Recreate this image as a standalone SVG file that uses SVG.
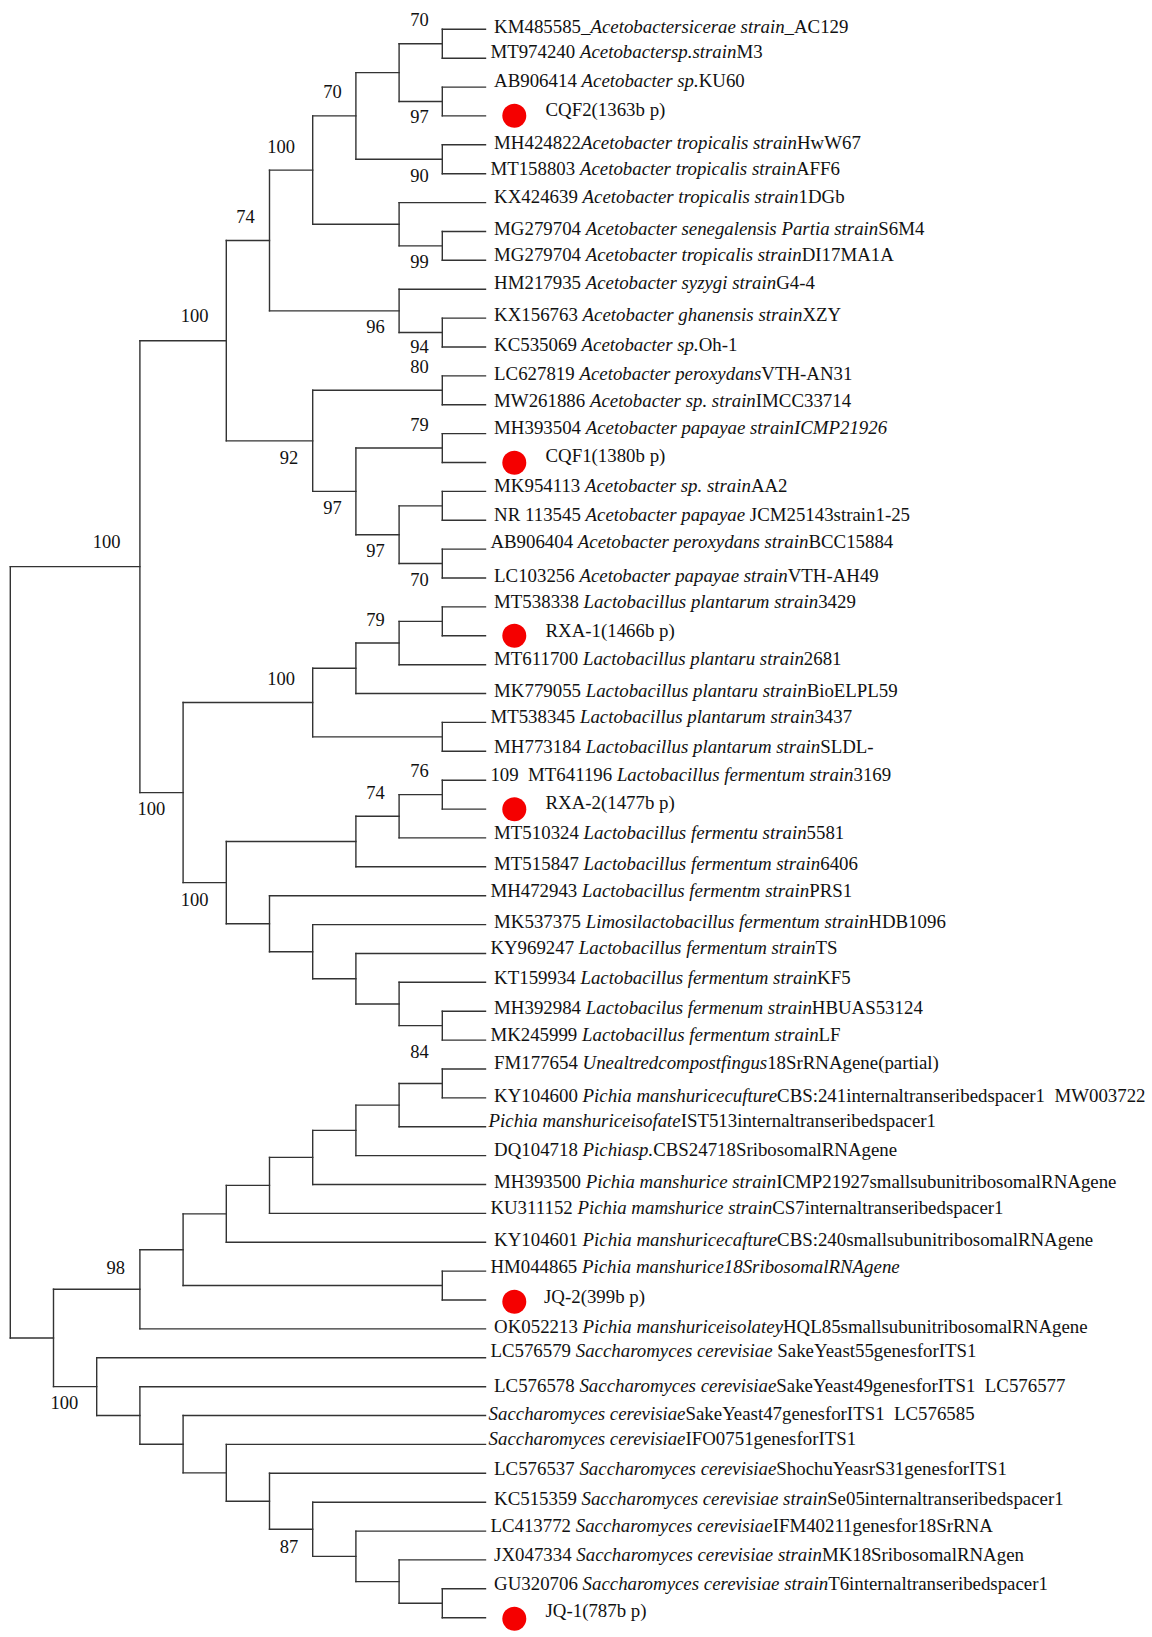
<svg xmlns="http://www.w3.org/2000/svg" width="1152" height="1637" viewBox="0 0 1152 1637">
<style>
.br{fill:none;stroke:#333;stroke-width:1.4;stroke-linecap:square}
text{font-family:"Liberation Serif","Times New Roman",serif;font-size:18.85px;fill:#111;white-space:pre}
.bs{font-size:18.5px;text-anchor:middle}
.i{font-style:italic}
.dot{fill:#f50000}
</style>
<rect width="1152" height="1637" fill="#fff"/>
<g id="connectors">
<path class="br" d="M442.3 29.3H485.5M442.3 58.2H485.5M442.3 87.1H485.5M442.3 115.9H485.5M442.3 144.8H485.5M442.3 173.7H485.5M399.1 202.6H485.5M442.3 231.5H485.5M442.3 260.3H485.5M399.1 289.2H485.5M442.3 318.1H485.5M442.3 347H485.5M442.3 375.9H485.5M442.3 404.7H485.5M442.3 433.6H485.5M442.3 462.5H485.5M442.3 491.4H485.5M442.3 520.3H485.5M442.3 549.1H485.5M442.3 578H485.5M442.3 606.9H485.5M442.3 635.8H485.5M399.1 664.7H485.5M355.9 693.5H485.5M442.3 722.4H485.5M442.3 751.3H485.5M442.3 780.2H485.5M442.3 809.1H485.5M399.1 837.9H485.5M355.9 866.8H485.5M269.5 895.7H485.5M312.7 924.6H485.5M355.9 953.5H485.5M399.1 982.3H485.5M442.3 1011.2H485.5M442.3 1040.1H485.5M442.3 1069H485.5M442.3 1097.9H485.5M399.1 1126.7H485.5M355.9 1155.6H485.5M312.7 1184.5H485.5M269.5 1213.4H485.5M226.3 1242.3H485.5M442.3 1271.1H485.5M442.3 1300H485.5M139.9 1328.9H485.5M96.7 1357.8H485.5M139.9 1386.7H485.5M183.1 1415.5H485.5M226.3 1444.4H485.5M269.5 1473.3H485.5M312.7 1502.2H485.5M355.9 1531.1H485.5M399.1 1559.9H485.5M442.3 1588.8H485.5M442.3 1617.7H485.5"/>
<path class="br" d="M399.1 43.75H442.3M399.1 101.5H442.3M355.9 72.6H399.1M355.9 159.25H442.3M312.7 115.9H355.9M399.1 245.9H442.3M312.7 224.25H399.1M269.5 170.1H312.7M399.1 332.55H442.3M269.5 310.9H399.1M226.3 240.5H269.5M312.7 390.3H442.3M355.9 448.05H442.3M399.1 505.85H442.3M399.1 563.55H442.3M355.9 534.7H399.1M312.7 491.4H355.9M226.3 440.85H312.7M139.9 340.7H226.3M399.1 621.35H442.3M355.9 643H399.1M312.7 668.25H355.9M312.7 736.85H442.3M183.1 702.55H312.7M399.1 794.65H442.3M355.9 816.3H399.1M226.3 841.55H355.9M399.1 1025.65H442.3M355.9 1004H399.1M312.7 978.75H355.9M269.5 951.7H312.7M226.3 923.7H269.5M183.1 882.6H226.3M139.9 792.6H183.1M10.3 566.65H139.9M399.1 1083.45H442.3M355.9 1105.1H399.1M312.7 1130.35H355.9M269.5 1157.4H312.7M226.3 1185.4H269.5M183.1 1213.85H226.3M183.1 1285.55H442.3M139.9 1249.7H183.1M53.5 1289.3H139.9M399.1 1603.25H442.3M355.9 1581.6H399.1M312.7 1556.35H355.9M269.5 1529.3H312.7M226.3 1501.3H269.5M183.1 1472.85H226.3M139.9 1444.2H183.1M96.7 1415.45H139.9M53.5 1386.6H96.7M10.3 1337.95H53.5"/>
<path class="br" d="M442.3 29.3V58.2M442.3 87.1V115.9M399.1 43.75V101.5M442.3 144.8V173.7M355.9 72.6V159.25M442.3 231.5V260.3M399.1 202.6V245.9M312.7 115.9V224.25M442.3 318.1V347M399.1 289.2V332.55M269.5 170.1V310.9M442.3 375.9V404.7M442.3 433.6V462.5M442.3 491.4V520.3M442.3 549.1V578M399.1 505.85V563.55M355.9 448.05V534.7M312.7 390.3V491.4M226.3 240.5V440.85M442.3 606.9V635.8M399.1 621.35V664.7M355.9 643V693.5M442.3 722.4V751.3M312.7 668.25V736.85M442.3 780.2V809.1M399.1 794.65V837.9M355.9 816.3V866.8M442.3 1011.2V1040.1M399.1 982.3V1025.65M355.9 953.5V1004M312.7 924.6V978.75M269.5 895.7V951.7M226.3 841.55V923.7M183.1 702.55V882.6M139.9 340.7V792.6M442.3 1069V1097.9M399.1 1083.45V1126.7M355.9 1105.1V1155.6M312.7 1130.35V1184.5M269.5 1157.4V1213.4M226.3 1185.4V1242.3M442.3 1271.1V1300M183.1 1213.85V1285.55M139.9 1249.7V1328.9M442.3 1588.8V1617.7M399.1 1559.9V1603.25M355.9 1531.1V1581.6M312.7 1502.2V1556.35M269.5 1473.3V1529.3M226.3 1444.4V1501.3M183.1 1415.5V1472.85M139.9 1386.7V1444.2M96.7 1357.8V1415.45M53.5 1289.3V1386.6M10.3 566.65V1337.95"/>
</g>
<g id="support-values">
<text class="bs" x="419.5" y="26">70</text>
<text class="bs" x="419.5" y="123">97</text>
<text class="bs" x="419.5" y="181.7">90</text>
<text class="bs" x="332.5" y="98.3">70</text>
<text class="bs" x="419.5" y="268.3">99</text>
<text class="bs" x="281" y="152.7">100</text>
<text class="bs" x="245.4" y="222.7">74</text>
<text class="bs" x="194.7" y="322.3">100</text>
<text class="bs" x="375.4" y="333.3">96</text>
<text class="bs" x="419.5" y="353.3">94</text>
<text class="bs" x="419.5" y="373.3">80</text>
<text class="bs" x="419.5" y="430.7">79</text>
<text class="bs" x="289.1" y="464.3">92</text>
<text class="bs" x="332.5" y="514">97</text>
<text class="bs" x="106.5" y="548.3">100</text>
<text class="bs" x="375.4" y="556.7">97</text>
<text class="bs" x="419.5" y="586">70</text>
<text class="bs" x="375.4" y="626">79</text>
<text class="bs" x="281" y="685">100</text>
<text class="bs" x="419.5" y="777.3">76</text>
<text class="bs" x="375.4" y="799.3">74</text>
<text class="bs" x="151.4" y="815">100</text>
<text class="bs" x="194.7" y="906">100</text>
<text class="bs" x="419.5" y="1058.3">84</text>
<text class="bs" x="115.7" y="1274.3">98</text>
<text class="bs" x="64.3" y="1408.7">100</text>
<text class="bs" x="289.1" y="1553">87</text>
</g>
<g id="tip-00"><text x="494.1" y="33">KM485585_<tspan class="i">Acetobactersicerae strain</tspan>_AC129</text></g>
<g id="tip-01"><text x="490.4" y="58.3">MT974240 <tspan class="i">Acetobactersp.strain</tspan>M3</text></g>
<g id="tip-02"><text x="494.1" y="87.3">AB906414 <tspan class="i">Acetobacter sp.</tspan>KU60</text></g>
<g id="tip-03"><circle class="dot" cx="514.3" cy="115.7" r="12"/><text x="545.5" y="116">CQF2(1363b p)</text></g>
<g id="tip-04"><text x="494.1" y="148.5">MH424822<tspan class="i">Acetobacter tropicalis strain</tspan>HwW67</text></g>
<g id="tip-05"><text x="490.4" y="174.5">MT158803 <tspan class="i">Acetobacter tropicalis strain</tspan>AFF6</text></g>
<g id="tip-06"><text x="494.1" y="203">KX424639 <tspan class="i">Acetobacter tropicalis strain</tspan>1DGb</text></g>
<g id="tip-07"><text x="494.1" y="234.5">MG279704 <tspan class="i">Acetobacter senegalensis Partia strain</tspan>S6M4</text></g>
<g id="tip-08"><text x="494.1" y="260.5">MG279704 <tspan class="i">Acetobacter tropicalis strain</tspan>DI17MA1A</text></g>
<g id="tip-09"><text x="494.1" y="289">HM217935 <tspan class="i">Acetobacter syzygi strain</tspan>G4-4</text></g>
<g id="tip-10"><text x="494.1" y="321">KX156763 <tspan class="i">Acetobacter ghanensis strain</tspan>XZY</text></g>
<g id="tip-11"><text x="494.1" y="351">KC535069 <tspan class="i">Acetobacter sp.</tspan>Oh-1</text></g>
<g id="tip-12"><text x="494.1" y="380">LC627819 <tspan class="i">Acetobacter peroxydans</tspan>VTH-AN31</text></g>
<g id="tip-13"><text x="494.1" y="406.5">MW261886 <tspan class="i">Acetobacter sp. strain</tspan>IMCC33714</text></g>
<g id="tip-14"><text x="494.1" y="433.5">MH393504 <tspan class="i">Acetobacter papayae strainICMP21926</tspan></text></g>
<g id="tip-15"><circle class="dot" cx="514.3" cy="462.7" r="12"/><text x="545.5" y="462">CQF1(1380b p)</text></g>
<g id="tip-16"><text x="494.1" y="491.7">MK954113 <tspan class="i">Acetobacter sp. strain</tspan>AA2</text></g>
<g id="tip-17"><text x="494.1" y="520.5">NR 113545 <tspan class="i">Acetobacter papayae</tspan> JCM25143strain1-25</text></g>
<g id="tip-18"><text x="490.4" y="548.3">AB906404 <tspan class="i">Acetobacter peroxydans strain</tspan>BCC15884</text></g>
<g id="tip-19"><text x="494.1" y="581.7">LC103256 <tspan class="i">Acetobacter papayae strain</tspan>VTH-AH49</text></g>
<g id="tip-20"><text x="494.1" y="608.3">MT538338 <tspan class="i">Lactobacillus plantarum strain</tspan>3429</text></g>
<g id="tip-21"><circle class="dot" cx="514.3" cy="635.7" r="12"/><text x="545.5" y="636.7">RXA-1(1466b p)</text></g>
<g id="tip-22"><text x="494.1" y="665">MT611700 <tspan class="i">Lactobacillus plantaru strain</tspan>2681</text></g>
<g id="tip-23"><text x="494.1" y="697.3">MK779055 <tspan class="i">Lactobacillus plantaru strain</tspan>BioELPL59</text></g>
<g id="tip-24"><text x="490.4" y="722.7">MT538345 <tspan class="i">Lactobacillus plantarum strain</tspan>3437</text></g>
<g id="tip-25"><text x="494.1" y="753.3">MH773184 <tspan class="i">Lactobacillus plantarum strain</tspan>SLDL-</text></g>
<g id="tip-26"><text x="490.4" y="780.7">109  MT641196 <tspan class="i">Lactobacillus fermentum strain</tspan>3169</text></g>
<g id="tip-27"><circle class="dot" cx="514.3" cy="809.3" r="12"/><text x="545.5" y="809.3">RXA-2(1477b p)</text></g>
<g id="tip-28"><text x="494.1" y="839.3">MT510324 <tspan class="i">Lactobacillus fermentu strain</tspan>5581</text></g>
<g id="tip-29"><text x="494.1" y="870">MT515847 <tspan class="i">Lactobacillus fermentum strain</tspan>6406</text></g>
<g id="tip-30"><text x="490.4" y="897.3">MH472943 <tspan class="i">Lactobacillus fermentm strain</tspan>PRS1</text></g>
<g id="tip-31"><text x="494.1" y="928.3">MK537375 <tspan class="i">Limosilactobacillus fermentum strain</tspan>HDB1096</text></g>
<g id="tip-32"><text x="490.4" y="954.3">KY969247 <tspan class="i">Lactobacillus fermentum strain</tspan>TS</text></g>
<g id="tip-33"><text x="494.1" y="984">KT159934 <tspan class="i">Lactobacillus fermentum strain</tspan>KF5</text></g>
<g id="tip-34"><text x="494.1" y="1014">MH392984 <tspan class="i">Lactobacilus fermenum strain</tspan>HBUAS53124</text></g>
<g id="tip-35"><text x="490.4" y="1040.7">MK245999 <tspan class="i">Lactobacillus fermentum strain</tspan>LF</text></g>
<g id="tip-36"><text x="494.1" y="1069.3">FM177654 <tspan class="i">Unealtredcompostfingus</tspan>18SrRNAgene(partial)</text></g>
<g id="tip-37"><text x="494.1" y="1101.7">KY104600 <tspan class="i">Pichia manshuricecufture</tspan>CBS:241internaltranseribedspacer1  MW003722</text></g>
<g id="tip-38"><text x="488.6" y="1126.7"><tspan class="i">Pichia manshuriceisofate</tspan>IST513internaltranseribedspacer1</text></g>
<g id="tip-39"><text x="494.1" y="1156">DQ104718 <tspan class="i">Pichiasp.</tspan>CBS24718SribosomalRNAgene</text></g>
<g id="tip-40"><text x="494.1" y="1188.3">MH393500 <tspan class="i">Pichia manshurice strain</tspan>ICMP21927smallsubunitribosomalRNAgene</text></g>
<g id="tip-41"><text x="490.4" y="1214">KU311152 <tspan class="i">Pichia mamshurice strain</tspan>CS7internaltranseribedspacer1</text></g>
<g id="tip-42"><text x="494.1" y="1245.7">KY104601 <tspan class="i">Pichia manshuricecafture</tspan>CBS:240smallsubunitribosomalRNAgene</text></g>
<g id="tip-43"><text x="490.4" y="1272.7">HM044865 <tspan class="i">Pichia manshurice18SribosomalRNAgene</tspan></text></g>
<g id="tip-44"><circle class="dot" cx="514.3" cy="1301.7" r="12"/><text x="544" y="1303">JQ-2(399b p)</text></g>
<g id="tip-45"><text x="494.1" y="1333.3">OK052213 <tspan class="i">Pichia manshuriceisolatey</tspan>HQL85smallsubunitribosomalRNAgene</text></g>
<g id="tip-46"><text x="490.4" y="1356.7">LC576579 <tspan class="i">Saccharomyces cerevisiae</tspan> SakeYeast55genesforITS1</text></g>
<g id="tip-47"><text x="494.1" y="1392">LC576578 <tspan class="i">Saccharomyces cerevisiae</tspan>SakeYeast49genesforITS1  LC576577</text></g>
<g id="tip-48"><text x="488.6" y="1419.7"><tspan class="i">Saccharomyces cerevisiae</tspan>SakeYeast47genesforITS1  LC576585</text></g>
<g id="tip-49"><text x="488.6" y="1445.3"><tspan class="i">Saccharomyces cerevisiae</tspan>IFO0751genesforITS1</text></g>
<g id="tip-50"><text x="494.1" y="1475.3">LC576537 <tspan class="i">Saccharomyces cerevisiae</tspan>ShochuYeasrS31genesforITS1</text></g>
<g id="tip-51"><text x="494.1" y="1505.3">KC515359 <tspan class="i">Saccharomyces cerevisiae strain</tspan>Se05internaltranseribedspacer1</text></g>
<g id="tip-52"><text x="490.4" y="1532">LC413772 <tspan class="i">Saccharomyces cerevisiae</tspan>IFM40211genesfor18SrRNA</text></g>
<g id="tip-53"><text x="494.1" y="1561">JX047334 <tspan class="i">Saccharomyces cerevisiae strain</tspan>MK18SribosomalRNAgen</text></g>
<g id="tip-54"><text x="494.1" y="1590.3">GU320706 <tspan class="i">Saccharomyces cerevisiae strain</tspan>T6internaltranseribedspacer1</text></g>
<g id="tip-55"><circle class="dot" cx="514.3" cy="1618.7" r="12"/><text x="545.5" y="1617">JQ-1(787b p)</text></g>
</svg>
